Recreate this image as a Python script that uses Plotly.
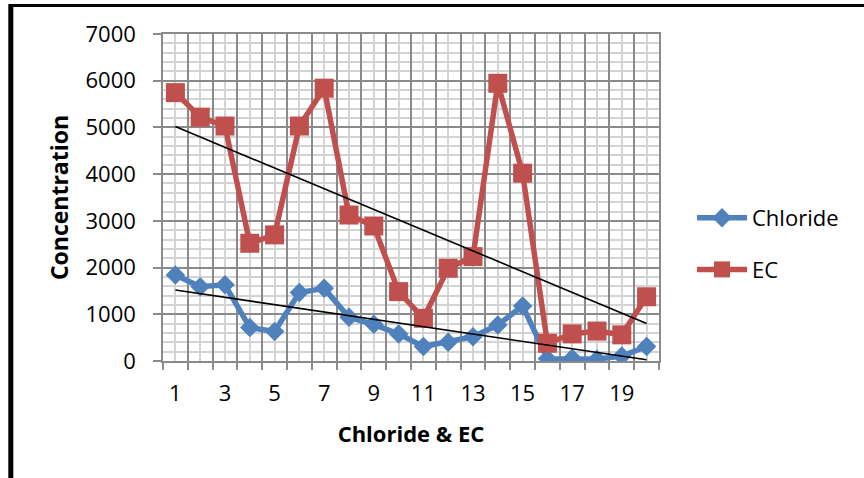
import numpy as np
import plotly.graph_objects as go

# Sample numbers along the x axis
samples = list(range(1, 21))
x_tick_labels = [str(v) for v in range(1, 20, 2)]

# Measured concentrations per sample
chloride = [1840, 1590, 1630, 715, 630, 1465, 1555, 935, 785, 580,
            310, 400, 520, 770, 1180, 50, 57, 40, 107, 310]
ec = [5745, 5220, 5030, 2520, 2700, 5030, 5840, 3125, 2890, 1485,
      915, 1985, 2235, 5945, 4020, 380, 580, 640, 560, 1375]

BLUE = "#4F81BD"
RED = "#C0504D"
MAJOR = "#8a8a8a"
MINOR = "#d3d3d3"
FONT = "Open Sans"

# Plot-area geometry in pixels (used to place the frame shapes)
W, H = 864, 478
L, R, T, B = 163, 205, 34, 117
pw, ph = W - L - R, H - T - B


def px_x(p):
    return (p - L) / pw


def px_y(p):
    return (H - B - p) / ph


fig = go.Figure()

fig.add_trace(go.Scatter(
    x=samples, y=chloride, name="Chloride", mode="lines+markers",
    line=dict(color=BLUE, width=5.5),
    marker=dict(symbol="diamond", size=15, color=BLUE),
    legendgroup="cl",
))
fig.add_trace(go.Scatter(
    x=samples, y=ec, name="EC", mode="lines+markers",
    line=dict(color=RED, width=5.5),
    marker=dict(symbol="square", size=19, color=RED),
    legendgroup="ec",
))

# Linear trend lines for both series
xs = np.array(samples, dtype=float)
for series in (chloride, ec):
    k, b0 = np.polyfit(xs, np.array(series, dtype=float), 1)
    fig.add_trace(go.Scatter(
        x=[xs[0], xs[-1]], y=[k * xs[0] + b0, k * xs[-1] + b0],
        mode="lines", line=dict(color="black", width=1.6),
        showlegend=False, hoverinfo="skip",
    ))

fig.update_layout(
    width=W, height=H,
    margin=dict(l=L, r=R, t=T, b=B, autoexpand=False),
    paper_bgcolor="white", plot_bgcolor="white",
    font=dict(family=FONT, size=22, color="black"),
    showlegend=True,
    legend=dict(
        x=px_x(692), y=px_y(197), xanchor="left", yanchor="top",
        font=dict(family=FONT, size=22),
        traceorder="grouped", tracegroupgap=20,
        itemwidth=50, bgcolor="rgba(0,0,0,0)",
    ),
    xaxis=dict(
        range=[0.5, 20.5], tickmode="linear", tick0=0.5, dtick=1,
        showticklabels=False, ticks="outside", ticklen=7, tickwidth=1.5,
        tickcolor=MAJOR, showgrid=True, gridcolor=MAJOR, gridwidth=1.5,
        minor=dict(tickmode="linear", tick0=0.5, dtick=0.5, showgrid=True,
                   gridcolor=MINOR, gridwidth=1.5),
        showline=True, linecolor=MAJOR, linewidth=1.5, mirror=True,
        zeroline=False, fixedrange=True,
    ),
    xaxis2=dict(
        range=[0.5, 20.5], overlaying="x", side="bottom", anchor="y",
        tickmode="array", tickvals=[int(t) for t in x_tick_labels],
        ticktext=x_tick_labels, ticks="outside", ticklen=13,
        tickcolor="rgba(0,0,0,0)", showgrid=False, zeroline=False,
        showline=False, fixedrange=True,
        title=dict(text="<b>Chloride & EC</b>", standoff=20,
                   font=dict(family=FONT, size=22)),
    ),
    yaxis=dict(
        range=[0, 7000], tickmode="linear", tick0=0, dtick=1000,
        ticks="outside", ticklen=8, tickwidth=1.5, tickcolor=MAJOR,
        ticklabelstandoff=13,
        showgrid=True, gridcolor=MAJOR, gridwidth=1.5,
        minor=dict(tickmode="linear", tick0=0, dtick=200, showgrid=True,
                   gridcolor=MINOR, gridwidth=1.5),
        showline=True, linecolor=MAJOR, linewidth=1.5, mirror=True,
        zeroline=False, fixedrange=True,
        title=dict(text="<b>Concentration</b>", standoff=10,
                   font=dict(family=FONT, size=23)),
    ),
)

# Outer frame: heavy black rule along the top and the left edge
fig.add_shape(type="line", xref="paper", yref="paper",
              x0=px_x(9), x1=px_x(W + 5), y0=px_y(5.5), y1=px_y(5.5),
              line=dict(color="black", width=3))
fig.add_shape(type="line", xref="paper", yref="paper",
              x0=px_x(10.8), x1=px_x(10.8), y0=px_y(4), y1=px_y(H + 5),
              line=dict(color="black", width=5))

# Put the data traces on the main x axis; the second axis only carries labels
fig.add_trace(go.Scatter(x=[None], y=[None], xaxis="x2", showlegend=False,
                         hoverinfo="skip"))

fig.write_html("out.html")
